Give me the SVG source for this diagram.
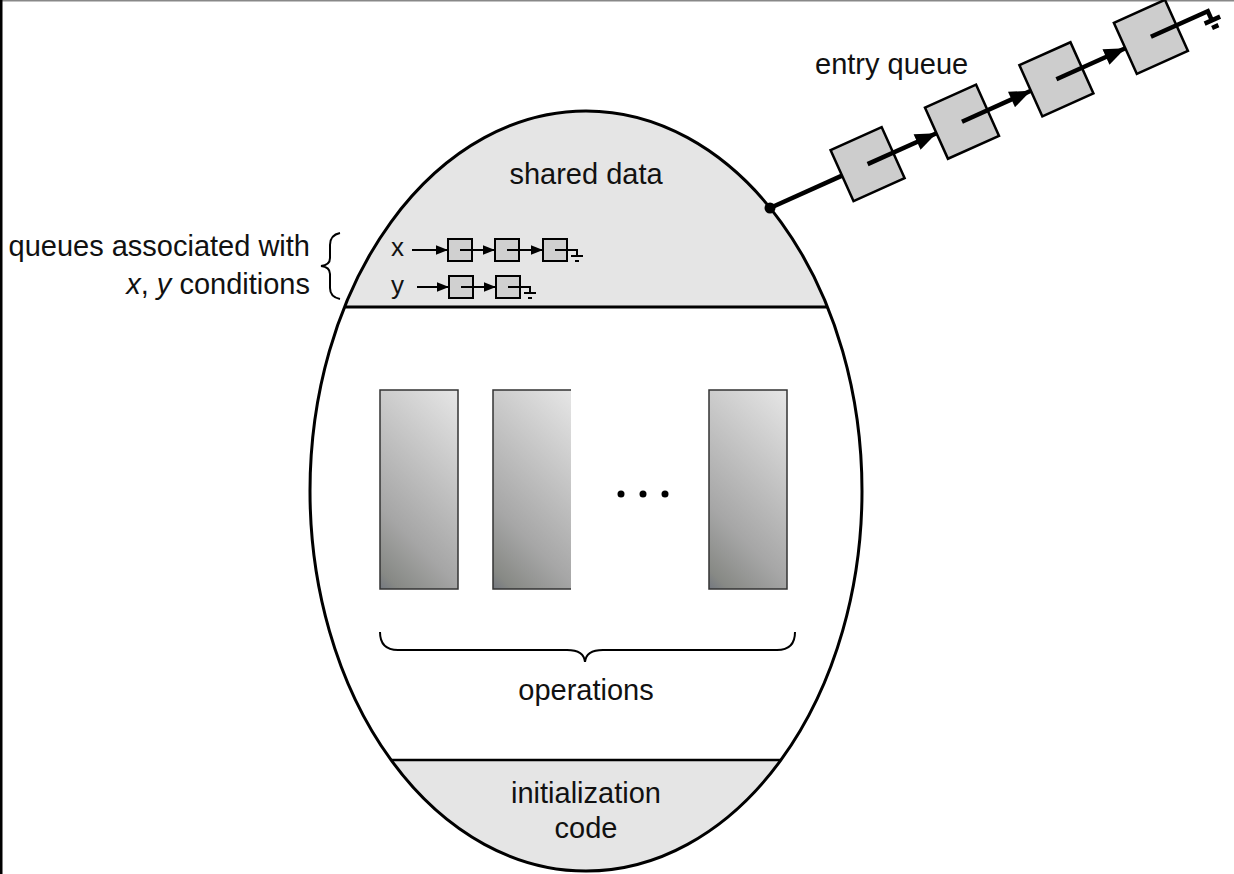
<svg xmlns="http://www.w3.org/2000/svg" width="1234" height="874" viewBox="0 0 1234 874">
<style>
.t{font-family:"Liberation Sans",Arial,sans-serif;font-size:29px;fill:#111}
.s{font-family:"Liberation Sans",Arial,sans-serif;font-size:26px;fill:#111}
.ln{stroke:#000;fill:none}
.bx{fill:#d0d0d0;stroke:#000;stroke-width:2}
.bb{fill:#cdcdcd;stroke:#000;stroke-width:2.5}
.op{fill:url(#g)}
</style>
<defs>
<clipPath id="egg"><ellipse cx="586" cy="491" rx="276" ry="380"/></clipPath>
<linearGradient id="g" gradientUnits="userSpaceOnUse" x1="78" y1="0" x2="-60.5" y2="138.5">
<stop offset="0" stop-color="#e6e6e6"/>
<stop offset="0.35" stop-color="#c6c6c6"/>
<stop offset="0.7" stop-color="#a6a6a6"/>
<stop offset="0.93" stop-color="#878985"/>
<stop offset="1" stop-color="#73777f"/>
</linearGradient>
<marker id="sa" viewBox="0 0 10 8" refX="10" refY="4" markerUnits="userSpaceOnUse" markerWidth="12" markerHeight="10" orient="auto"><path d="M0,0L10,4L0,8z" fill="#000"/></marker>
<marker id="la" viewBox="0 0 10 8" refX="10" refY="4" markerUnits="userSpaceOnUse" markerWidth="22" markerHeight="17" orient="auto"><path d="M0,0L10,4L0,8z" fill="#000"/></marker>
</defs>
<rect width="1234" height="874" fill="#fff"/>
<rect x="0" y="0" width="1234" height="1.5" fill="#888"/>
<rect x="0" y="0" width="2.5" height="874" fill="#000"/>

<g id="monitor">
<g clip-path="url(#egg)">
<rect x="300" y="100" width="580" height="207" fill="#e5e5e5"/>
<rect x="300" y="760" width="580" height="120" fill="#e5e5e5"/>
<line x1="300" y1="307" x2="880" y2="307" stroke="#000" stroke-width="3"/>
<line x1="300" y1="760" x2="880" y2="760" stroke="#000" stroke-width="2.5"/>
</g>
<ellipse cx="586" cy="491" rx="276" ry="380" fill="none" stroke="#000" stroke-width="3"/>
</g>

<g id="shared-data"><text class="t" x="586" y="184" text-anchor="middle">shared data</text></g>

<g id="condition-queues">
<text class="s" x="391" y="256">x</text>
<text class="s" x="391" y="294">y</text>
<rect class="bx" x="448" y="239" width="24" height="22"/>
<rect class="bx" x="495" y="239" width="24" height="22"/>
<rect class="bx" x="543" y="239" width="24" height="22"/>
<rect class="bx" x="449" y="276" width="24" height="22"/>
<rect class="bx" x="496" y="276" width="24" height="22"/>
</g>

<g id="operations">
<g transform="translate(380,390)"><rect class="op" width="78" height="199" stroke="#333" stroke-width="1.5"/></g>
<g transform="translate(493,390)"><rect class="op" width="78" height="199"/><path d="M78,0H0V199H78" fill="none" stroke="#333" stroke-width="1.5"/></g>
<g transform="translate(709,390)"><rect class="op" width="78" height="199" stroke="#333" stroke-width="1.5"/></g>
<circle cx="621" cy="494" r="3.5"/>
<circle cx="643" cy="494" r="3.5"/>
<circle cx="665" cy="494" r="3.5"/>
<path class="ln" stroke-width="2" d="M380,632Q380,650 398,650L567,650Q584,650 585,662Q586,650 603,650L777,650Q795,650 795,632"/>
<text class="t" x="586" y="700" text-anchor="middle">operations</text>
</g>

<g id="init-code">
<text class="t" x="586" y="803" text-anchor="middle">initialization</text>
<text class="t" x="586" y="838" text-anchor="middle">code</text>
</g>

<g id="queue-label">
<text class="t" x="310" y="256" text-anchor="end">queues associated with</text>
<text class="t" x="310" y="294" text-anchor="end"><tspan font-style="italic">x</tspan>, <tspan font-style="italic">y</tspan> conditions</text>
<path class="ln" stroke-width="2" d="M340,233Q330,235 330,245L330,258Q330,265 321,266Q330,267 330,274L330,288Q330,297 340,299"/>
</g>

<g id="entry-queue">
<text class="t" x="815" y="74">entry queue</text>
<g transform="translate(770,208) rotate(-24.2)">
<rect class="bb" x="79" y="-28" width="56" height="56"/>
<rect class="bb" x="182.5" y="-28" width="56" height="56"/>
<rect class="bb" x="286" y="-28" width="56" height="56"/>
<rect class="bb" x="389.6" y="-28" width="56" height="56"/>
</g>
</g>

<g id="connectors">
<g class="ln" stroke-width="2">
<line x1="412" y1="250" x2="448" y2="250" marker-end="url(#sa)"/>
<line x1="460" y1="250" x2="495" y2="250" marker-end="url(#sa)"/>
<line x1="507" y1="250" x2="543" y2="250" marker-end="url(#sa)"/>
<path d="M555,250H577V256M571,256H583M575,261H579"/>
<line x1="417" y1="287" x2="449" y2="287" marker-end="url(#sa)"/>
<line x1="461" y1="287" x2="496" y2="287" marker-end="url(#sa)"/>
<path d="M508,287H530V293M524,293H536M528,298H532"/>
</g>
<g transform="translate(770,208) rotate(-24.2)" class="ln" stroke-width="4.5">
<line x1="0" y1="0" x2="79" y2="0"/>
<line x1="107" y1="0" x2="182.5" y2="0" marker-end="url(#la)"/>
<line x1="210.5" y1="0" x2="286" y2="0" marker-end="url(#la)"/>
<line x1="314" y1="0" x2="389.6" y2="0" marker-end="url(#la)"/>
<path d="M417.6,0H480V10M472,10H489M477,17H484"/>
</g>
<circle cx="770" cy="208" r="5.5" fill="#000"/>
</g>
</svg>
